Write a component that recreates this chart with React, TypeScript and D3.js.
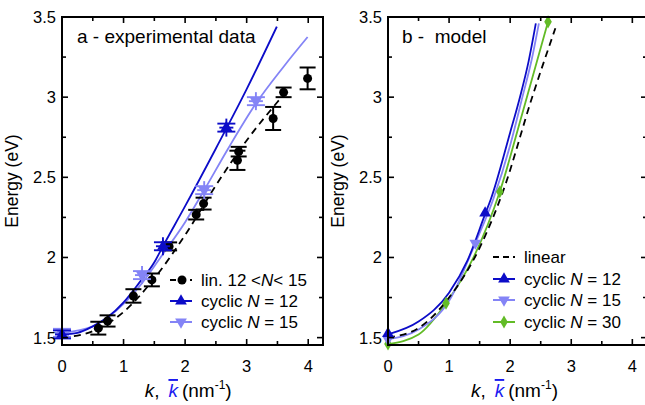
import React from "react";
import * as d3 from "d3";

// ---- panel a: experimental data (lin. 12 < N < 15) ----
const expK = [0.59, 0.74, 1.16, 1.46, 1.74, 2.18, 2.3, 2.85, 2.87, 3.43, 3.6, 3.99];
const expE = [1.559, 1.604, 1.76, 1.86, 2.069, 2.267, 2.336, 2.606, 2.66, 2.867, 3.03, 3.117];
const expErr = [0.04, 0.035, 0.042, 0.04, 0.025, 0.03, 0.037, 0.06, 0.03, 0.072, 0.03, 0.068];

// dashed guide through the linear data
const linAK = [0, 0.5, 1.0, 1.5, 2.0, 2.5, 3.0, 3.5, 3.7];
const linAE = [1.5, 1.54, 1.66, 1.87, 2.14, 2.45, 2.73, 2.97, 3.06];

// cyclic N = 12 (panel a)
const cyc12AK = [0, 0.25, 0.5, 0.75, 1.0, 1.25, 1.5, 1.64, 2.0, 2.5, 3.0, 3.49];
const cyc12AE = [1.52, 1.53, 1.57, 1.63, 1.72, 1.84, 1.97, 2.07, 2.32, 2.68, 3.05, 3.44];
const cyc12PtK = [0, 1.64, 2.67];
const cyc12PtE = [1.52, 2.07, 2.81];

// cyclic N = 15 (panel a)
const cyc15AK = [0, 0.5, 1.0, 1.3, 1.6, 2.0, 2.31, 2.7, 3.15, 3.6, 3.99];
const cyc15AE = [1.53, 1.57, 1.71, 1.84, 2.0, 2.22, 2.42, 2.68, 2.96, 3.19, 3.375];
const cyc15PtK = [0, 1.3, 2.31, 3.15];
const cyc15PtE = [1.53, 1.89, 2.42, 2.975];

// ---- panel b: model ----
const linBK = [0, 0.5, 1.0, 1.5, 1.89, 2.36, 2.74];
const linBE = [1.5, 1.56, 1.75, 2.06, 2.42, 3.0, 3.43];

const m12K = [0, 0.5, 1.0, 1.3, 1.59, 1.68, 2.0, 2.16, 2.3, 2.42];
const m12E = [1.52, 1.6, 1.78, 1.98, 2.27, 2.36, 2.78, 3.0, 3.22, 3.46];
const m12PtK = [0, 1.59];
const m12PtE = [1.525, 2.277];

const m15K = [0, 0.5, 1.0, 1.43, 1.72, 2.0, 2.2, 2.35, 2.47];
const m15E = [1.49, 1.55, 1.73, 2.09, 2.36, 2.7, 3.0, 3.23, 3.46];
const m15PtK = [0, 1.43];
const m15PtE = [1.49, 2.09];

const m30K = [0, 0.5, 0.95, 1.4, 1.83, 2.2, 2.62];
const m30E = [1.46, 1.52, 1.715, 2.0, 2.41, 2.9, 3.47];
const m30PtK = [0, 0.95, 1.83, 2.62];
const m30PtE = [1.46, 1.715, 2.41, 3.47];

const xTicks = [0, 1, 2, 3, 4];
const yTicks = [1.5, 2, 2.5, 3, 3.5];
const yTickLabels = ["1.5", "2", "2.5", "3", "3.5"];

const DARK = "#0c0cc8";
const LIGHT = "#8484f6";
const GREEN = "#62bb26";
const FONT = "Liberation Sans, Arial, sans-serif";

const yScale = d3.scaleLinear().domain([1.454, 3.5]).range([345, 17]);
const xA = d3.scaleLinear().domain([0, 4.24]).range([62, 323]);
const xB = d3.scaleLinear().domain([0, 4.24]).range([388, 647]);

const zip = (ks: number[], es: number[]) => ks.map((k, i) => [k, es[i]] as [number, number]);

function curve(x: d3.ScaleLinear<number, number>, ks: number[], es: number[]) {
  return d3
    .line<[number, number]>()
    .x((d) => x(d[0]))
    .y((d) => yScale(d[1]))
    .curve(d3.curveMonotoneX)(zip(ks, es)) as string;
}

const triUp = d3.symbol().type(d3.symbolTriangle).size(60)() as string;
const diamond = d3.symbol().type(d3.symbolDiamond).size(50)() as string;

function Frame({ x, labelAt }: { x: d3.ScaleLinear<number, number>; labelAt: number }) {
  const [x0, x1] = x.range();
  const y0 = 345;
  const y1 = 17;
  const minorX = d3.range(0, 4.01, 0.5);
  const minorY = d3.range(1.5, 3.51, 0.25);
  return (
    <g>
      <rect x={x0} y={y1} width={x1 - x0} height={y0 - y1} fill="none" stroke="#000" strokeWidth={2} />
      {minorX.map((v) => {
        const major = Math.abs(v - Math.round(v)) < 1e-6;
        const l = major ? 6 : 4;
        return (
          <g key={"x" + v} stroke="#000" strokeWidth={1.6}>
            <line x1={x(v)} x2={x(v)} y1={y0} y2={y0 - l} />
            <line x1={x(v)} x2={x(v)} y1={y1} y2={y1 + l} />
          </g>
        );
      })}
      {minorY.map((v) => {
        const major = Math.abs(v * 2 - Math.round(v * 2)) < 1e-6;
        const l = major ? 6 : 4;
        return (
          <g key={"y" + v} stroke="#000" strokeWidth={1.6}>
            <line x1={x0} x2={x0 + l} y1={yScale(v)} y2={yScale(v)} />
            <line x1={x1} x2={x1 - l} y1={yScale(v)} y2={yScale(v)} />
          </g>
        );
      })}
      {xTicks.map((v) => (
        <text key={"xl" + v} x={x(v)} y={372} textAnchor="middle" fontSize={16.5} fontFamily={FONT}>
          {v}
        </text>
      ))}
      {yTicks.map((v, i) => (
        <text key={"yl" + v} x={x0 - 6} y={yScale(v) + 6} textAnchor="end" fontSize={16.5} fontFamily={FONT}>
          {yTickLabels[i]}
        </text>
      ))}
      <text
        transform={`translate(${x0 - 44},${(y0 + y1) / 2}) rotate(-90)`}
        textAnchor="middle"
        fontSize={17.5}
        fontFamily={FONT}
      >
        Energy (eV)
      </text>
      <text x={x(labelAt)} y={397} textAnchor="middle" fontSize={19} fontFamily={FONT}>
        <tspan fontStyle="italic">k</tspan>
        <tspan>,</tspan>
        <tspan dx={9} fontStyle="italic" fill="#1a1af0" textDecoration="overline">k</tspan>
        <tspan dx={4}>(nm</tspan>
        <tspan fontSize={12} dy={-8}>-1</tspan>
        <tspan dy={8}>)</tspan>
      </text>
    </g>
  );
}

function Star({ cx, cy, color, down }: { cx: number; cy: number; color: string; down?: boolean }) {
  return (
    <g transform={`translate(${cx},${cy})`} stroke={color} strokeWidth={1.9}>
      <line x1={0} x2={0} y1={-9} y2={9} />
      <line x1={-9} x2={9} y1={-4} y2={-4} />
      <line x1={-9} x2={9} y1={4} y2={4} />
      <line x1={-7} x2={7} y1={0} y2={0} />
      <path d={triUp} fill={color} stroke="none" transform={down ? "rotate(180)" : ""} />
    </g>
  );
}

function LegendRow({
  x,
  y,
  color,
  dashed,
  marker,
  children,
}: {
  x: number;
  y: number;
  color: string;
  dashed?: boolean;
  marker: "circle" | "up" | "down" | "diamond" | "none";
  children: React.ReactNode;
}) {
  return (
    <g>
      <line
        x1={x}
        x2={x + 22}
        y1={y}
        y2={y}
        stroke={color}
        strokeWidth={2}
        strokeDasharray={dashed ? "6,4" : undefined}
      />
      {marker === "circle" && <circle cx={x + 12} cy={y} r={4.5} fill={color} />}
      {marker === "up" && <path d={triUp} transform={`translate(${x + 11},${y})`} fill={color} />}
      {marker === "down" && <path d={triUp} transform={`translate(${x + 11},${y}) rotate(180)`} fill={color} />}
      {marker === "diamond" && <path d={diamond} transform={`translate(${x + 11},${y})`} fill={color} />}
      <text x={x + 31} y={y + 6} fontSize={17} fontFamily={FONT}>
        {children}
      </text>
    </g>
  );
}

export default function App() {
  return (
    <svg width={645} height={405} style={{ position: "absolute", left: 0, top: 0 }}>
      <rect width={645} height={405} fill="#fff" />

      {/* panel a */}
      <g>
        <path d={curve(xA, cyc15AK, cyc15AE)} fill="none" stroke={LIGHT} strokeWidth={1.8} />
        <path d={curve(xA, cyc12AK, cyc12AE)} fill="none" stroke={DARK} strokeWidth={1.8} />
        <path d={curve(xA, linAK, linAE)} fill="none" stroke="#000" strokeWidth={1.8} strokeDasharray="7,5" />
        {expK.map((k, i) => {
          const cx = xA(k);
          const yt = yScale(expE[i] + expErr[i]);
          const yb = yScale(expE[i] - expErr[i]);
          return (
            <g key={"e" + i} stroke="#000" strokeWidth={2}>
              <line x1={cx} x2={cx} y1={yt} y2={yb} />
              <line x1={cx - 8} x2={cx + 8} y1={yt} y2={yt} />
              <line x1={cx - 8} x2={cx + 8} y1={yb} y2={yb} />
              <circle cx={cx} cy={yScale(expE[i])} r={4.5} fill="#000" stroke="none" />
            </g>
          );
        })}
        {cyc15PtK.map((k, i) => (
          <Star key={"s15" + i} cx={xA(k)} cy={yScale(cyc15PtE[i])} color={LIGHT} down />
        ))}
        {cyc12PtK.map((k, i) => (
          <Star key={"s12" + i} cx={xA(k)} cy={yScale(cyc12PtE[i])} color={DARK} />
        ))}
        <Frame x={xA} labelAt={2.05} />
        <text x={77} y={43} fontSize={19} fontFamily={FONT}>
          a - experimental data
        </text>
        <LegendRow x={170} y={280} color="#000" dashed marker="circle">
          lin. 12 &lt;<tspan fontStyle="italic">N</tspan>&lt; 15
        </LegendRow>
        <LegendRow x={170} y={301} color={DARK} marker="up">
          cyclic <tspan fontStyle="italic">N</tspan> = 12
        </LegendRow>
        <LegendRow x={170} y={322} color={LIGHT} marker="down">
          cyclic <tspan fontStyle="italic">N</tspan> = 15
        </LegendRow>
      </g>

      {/* panel b */}
      <g>
        <path d={curve(xB, m30K, m30E)} fill="none" stroke={GREEN} strokeWidth={1.8} />
        <path d={curve(xB, m15K, m15E)} fill="none" stroke={LIGHT} strokeWidth={1.8} />
        <path d={curve(xB, m12K, m12E)} fill="none" stroke={DARK} strokeWidth={1.8} />
        <path d={curve(xB, linBK, linBE)} fill="none" stroke="#000" strokeWidth={1.8} strokeDasharray="7,5" />
        {m30PtK.map((k, i) => (
          <path key={"d" + i} d={diamond} transform={`translate(${xB(k)},${yScale(m30PtE[i])})`} fill={GREEN} />
        ))}
        {m15PtK.map((k, i) => (
          <path key={"t15" + i} d={triUp} transform={`translate(${xB(k)},${yScale(m15PtE[i])}) rotate(180)`} fill={LIGHT} />
        ))}
        {m12PtK.map((k, i) => (
          <path key={"t12" + i} d={triUp} transform={`translate(${xB(k)},${yScale(m12PtE[i])})`} fill={DARK} />
        ))}
        <Frame x={xB} labelAt={2.07} />
        <text x={402} y={43} fontSize={19} fontFamily={FONT} xmlSpace="preserve">
          b -  model
        </text>
        <LegendRow x={493} y={257} color="#000" dashed marker="none">
          linear
        </LegendRow>
        <LegendRow x={493} y={279} color={DARK} marker="up">
          cyclic <tspan fontStyle="italic">N</tspan> = 12
        </LegendRow>
        <LegendRow x={493} y={300} color={LIGHT} marker="down">
          cyclic <tspan fontStyle="italic">N</tspan> = 15
        </LegendRow>
        <LegendRow x={493} y={322} color={GREEN} marker="diamond">
          cyclic <tspan fontStyle="italic">N</tspan> = 30
        </LegendRow>
      </g>
    </svg>
  );
}
